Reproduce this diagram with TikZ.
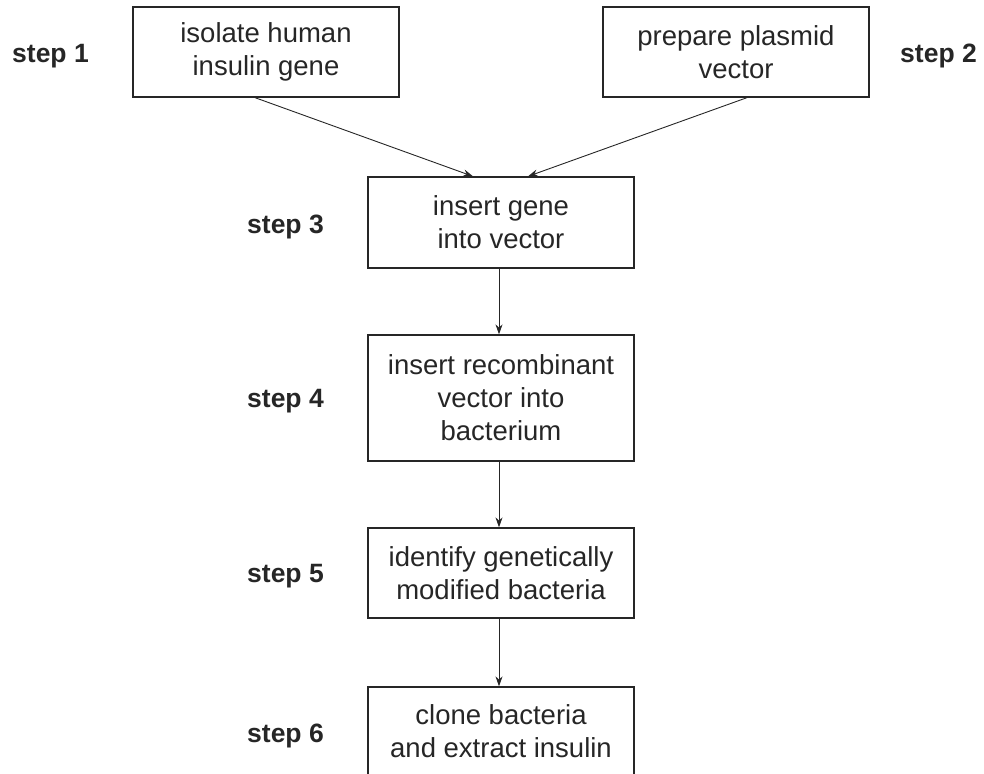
\documentclass[tikz,border=0pt]{standalone}
\usepackage{fontspec}
\setmainfont{Liberation Sans}
\usetikzlibrary{arrows.meta}
\begin{document}
\begin{tikzpicture}[x=1pt,y=-1pt,
  box/.style={draw=black!85,line width=1.3pt,minimum width=266pt,align=center,
    font=\fontsize{27.5}{33}\selectfont,text=black!85,inner sep=0pt},
  boxtext/.style={align=center,font=\fontsize{27.5}{33}\selectfont,text=black!85,inner sep=0pt},
  steplabel/.style={anchor=base west,font=\fontsize{26.5}{30}\selectfont\bfseries,text=black!85,inner sep=0pt},
  arr/.style={draw=black!85,line width=0.9pt,-{Stealth[length=10pt,width=7pt]}}]
\useasboundingbox (0,0) rectangle (984,773);
\clip (0,0) rectangle (984,773);
\node[box,minimum height=90pt] (b1) at (266,52) {isolate human\\insulin gene};
\node[box,minimum height=90pt] (b2) at (736,52) {prepare plasmid\\vector};
\node[box,minimum height=91pt] (b3) at (501,222.5) {insert gene\\into vector};
\node[box,minimum height=126pt] (b4) at (501,398) {insert recombinant\\vector into\\bacterium};
\node[box,minimum height=90pt] (b5) at (501,573) {identify genetically\\modified bacteria};
\node[box,minimum height=100pt] (b6) at (501,737) {};
\node[boxtext] (t6) at (501,731) {clone bacteria\\and extract insulin};
\node[steplabel] (s1) at (12,63) {step 1};
\node[steplabel] (s2) at (900,63) {step 2};
\node[steplabel] (s3) at (247,233) {step 3};
\node[steplabel] (s4) at (247,407) {step 4};
\node[steplabel] (s5) at (247,582) {step 5};
\node[steplabel] (s6) at (247,742) {step 6};
\draw[arr] ([xshift=-11pt]b1.south) -- ([xshift=-28pt]b3.north);
\draw[arr] ([xshift=11pt]b2.south) -- ([xshift=27pt]b3.north);
\draw[arr] ([xshift=-2pt]b3.south) -- ([xshift=-2pt]b4.north);
\draw[arr] ([xshift=-2pt]b4.south) -- ([xshift=-2pt]b5.north);
\draw[arr] ([xshift=-2pt]b5.south) -- ([xshift=-2pt]b6.north);
\end{tikzpicture}
\end{document}
